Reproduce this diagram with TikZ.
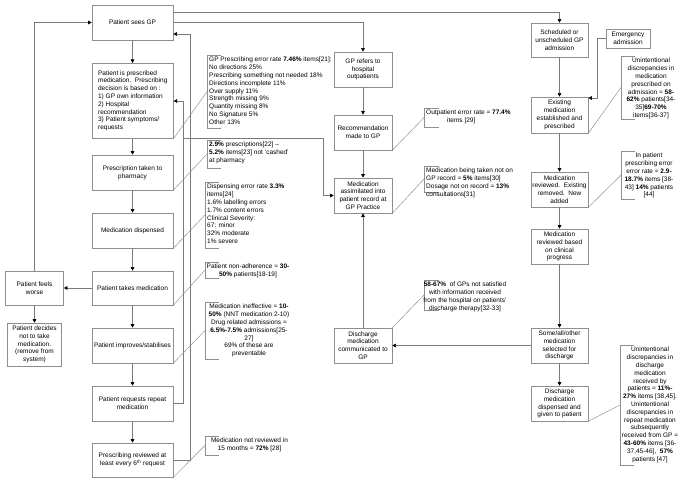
\documentclass[tikz,border=0pt]{standalone}
\usepackage{fontspec}
\setmainfont{Liberation Sans}
\usetikzlibrary{arrows.meta}
\definecolor{boxgray}{HTML}{8E8E8E}
\definecolor{linegray}{HTML}{7A7A7A}
\newcommand\fs{\fontsize{6.5}{7.8}\selectfont}
\tikzset{
  x=1pt, y=-1pt,
  box/.style={draw=boxgray, line width=0.6pt, fill=white, font=\fs, align=center, inner sep=1pt, minimum height=35pt},
  arr/.style={draw=linegray, line width=0.55pt, -{Triangle[length=3.5pt,width=3.5pt,black]}},
  conn/.style={draw=linegray, line width=0.55pt},
  brk/.style={draw=boxgray, line width=0.5pt},
  diag/.style={draw=boxgray, line width=0.45pt},
  ann/.style={font=\fs, inner sep=1pt},
}
\begin{document}
\begin{tikzpicture}
\useasboundingbox (0,0) rectangle (685,484);
\fill[white] (0,0) rectangle (685,484);

% left column
\node[box, minimum width=81pt] (gp) at (132.5,22.5) {Patient sees GP};
\node[box, minimum width=81pt, minimum height=75pt, align=left, anchor=north west, inner sep=2pt] (presc) at (92,63) {Patient is prescribed\\medication.\ \ Prescribing\\decision is based on :\\1) GP own information\\2) Hospital\\recommendation\\3) Patient symptoms/\\requests};
\node[box, minimum width=81pt] (pharm) at (132.5,172.5) {Prescription taken to\\pharmacy};
\node[box, minimum width=81pt] (disp) at (132.5,230.5) {Medication dispensed};
\node[box, minimum width=81pt, minimum height=34pt] (takes) at (132.5,288) {Patient takes medication};
\node[box, minimum width=81pt] (improves) at (132.5,345.5) {Patient improves/stabilises};
\node[box, minimum width=81pt] (repeat) at (132.5,403.5) {Patient requests repeat\\medication};
\node[box, minimum width=81pt, minimum height=34pt] (review) at (132.5,460) {Prescribing reviewed at\\least every 6\textsuperscript{th} request};

\node[box, minimum width=58pt, minimum height=34pt] (worse) at (34.5,288) {Patient feels\\worse};
\node[box, minimum width=54pt, minimum height=43pt] (decides) at (34.5,344.5) {Patient decides\\not to take\\medication.\\(remove from\\system)};

% middle column
\node[box, minimum width=58pt] (refers) at (363,69.5) {GP refers to\\hospital\\outpatients};
\node[box, minimum width=58pt] (recomm) at (363,132.5) {Recommendation\\made to GP};
\node[box, minimum width=58pt] (assim) at (363,195.5) {Medication\\assimilated into\\patient record at\\GP Practice};
\node[box, minimum width=58pt] (dcomm) at (363,345.5) {Discharge\\medication\\communicated to\\GP};

% right column
\node[box, minimum width=57pt, minimum height=34pt] (sched) at (559.5,40) {Scheduled or\\unscheduled GP\\admission};
\node[box, minimum width=44pt, minimum height=19pt] (emerg) at (628,38.5) {Emergency\\admission};
\node[box, minimum width=57pt, minimum height=36pt] (exist) at (559.5,115) {Existing\\medication\\established and\\prescribed};
\node[box, minimum width=57pt] (mrev) at (559.5,189.5) {Medication\\reviewed.\ \ Existing\\removed.\ \ New\\added};
\node[box, minimum width=57pt] (mclin) at (559.5,246.5) {Medication\\reviewed based\\on clinical\\progress};
\node[box, minimum width=57pt] (sel) at (559.5,345.5) {Some/all/other\\medication\\selected for\\discharge};
\node[box, minimum width=57pt] (ddisp) at (559.5,403.5) {Discharge\\medication\\dispensed and\\given to patient};

% connectors left column
\draw[arr] (gp) -- (presc.north -| gp);
\draw[arr] (presc.south -| gp) -- (pharm);
\draw[arr] (pharm) -- (disp);
\draw[arr] (disp) -- (takes);
\draw[arr] (takes) -- (improves);
\draw[arr] (improves) -- (repeat);
\draw[arr] (repeat) -- (review);
\draw[arr] (takes.west) -- (worse.east);
\draw[arr] (worse.north) |- (gp.west);
\draw[arr] (worse.south) -- (decides.north);
\draw[arr] (repeat.east) -- (183,403.5) |- (presc.east |- 0,101);
\draw[arr] (review.east) -- (190,460) |- (gp.east |- 0,34);
\coordinate (j1) at (183,138);
\coordinate (j2) at (323,195.5);
\draw[arr] (j1) -| (j2) -- (assim.west);

% top connectors
\draw[arr] (gp.east |- 0,12) -| (sched.north);
\draw[arr] (gp.east) -| (refers.north);

% middle column
\draw[arr] (refers) -- (recomm);
\draw[arr] (recomm) -- (assim);
\draw[arr] (dcomm) -- (assim);

% right column
\draw[arr] (sched) -- (exist);
\draw[arr] (exist) -- (mrev);
\draw[arr] (mrev) -- (mclin);
\draw[arr] (mclin) -- (sel);
\draw[arr] (sel) -- (ddisp);
\draw[arr] (sel.west) -- (dcomm.east);
\draw[arr] (emerg.west) -- (597,38.5) |- (exist.east |- 0,98);

% annotation brackets
\draw[brk] (221,55) -- (207,55) -- (207,128) -- (221,128);
\coordinate (a1) at (207,91.5);
\draw[brk] (221,140) -- (207,140) -- (207,168) -- (221,168);
\coordinate (a2) at (207,154);
\draw[brk] (219,182) -- (205,182) -- (205,248) -- (219,248);
\coordinate (a3) at (205,215);
\draw[brk] (219,262) -- (205,262) -- (205,278) -- (219,278);
\coordinate (a4) at (205,270);
\draw[brk] (219,302) -- (205,302) -- (205,359) -- (219,359);
\coordinate (a5) at (205,330.5);
\draw[brk] (219,436) -- (205,436) -- (205,455) -- (219,455);
\coordinate (a6) at (205,445.5);
\draw[brk] (439,108) -- (424,108) -- (424,127) -- (439,127);
\coordinate (a7) at (424,117.5);
\draw[brk] (439,166) -- (424,166) -- (424,192) -- (439,192);
\coordinate (a8) at (424,179);
\draw[brk] (439,280) -- (424,280) -- (424,310) -- (439,310);
\coordinate (a9) at (424,295);
\draw[brk] (635,56) -- (621,56) -- (621,119) -- (635,119);
\coordinate (a10) at (621,87.5);
\draw[brk] (635,151) -- (621,151) -- (621,199) -- (635,199);
\coordinate (a11) at (621,175);
\draw[brk] (634,345) -- (620,345) -- (620,465) -- (634,465);
\coordinate (a12) at (620,405);

% diagonals
\draw[diag] (presc.south east) -- (a1);
\draw[diag] (pharm.south east) -- (a2);
\draw[diag] (disp.south east) -- (a3);
\draw[diag] (takes.south east) -- (a4);
\draw[diag] (improves.south east) -- (a5);
\draw[diag] (review.south east) -- (a6);
\draw[diag] (recomm.south east) -- (a7);
\draw[diag] (assim.south east) -- (a8);
\draw[diag] (dcomm.north east) -- (a9);
\draw[diag] (exist.south east) -- (a10);
\draw[diag] (mrev.south east) -- (a11);
\draw[diag] (ddisp.south east) -- (a12);

% annotation texts
\node[ann, align=left, anchor=north west] (t1) at (208,56) {GP Prescribing error rate \textbf{7.46\%} items[21]:\\No directions 25\%\\Prescribing something not needed 18\%\\Directions incomplete 11\%\\Over supply 11\%\\Strength missing 9\%\\Quantity missing 8\%\\No Signature 5\%\\Other 13\%};
\node[ann, align=left, anchor=north west] (t2) at (208,141) {\textbf{2.9\%} prescriptions[22] --\\\textbf{5.2\%} items[23] not `cashed'\\at pharmacy};
\node[ann, align=left, anchor=north west] (t3) at (206,183) {Dispensing error rate \textbf{3.3\%}\\items[24]\\1.6\% labelling errors\\1.7\% content errors\\Clinical Severity:\\67: minor\\32\% moderate\\1\% severe};
\node[ann, align=center, anchor=north] (t4) at (248,263) {Patient non-adherence = \textbf{30-}\\\textbf{50\%} patients[18-19]};
\node[ann, align=center, anchor=north] (t5) at (249,303) {Medication ineffective = \textbf{10-}\\\textbf{50\%} (NNT medication 2-10)\\Drug related admissions =\\\textbf{6.5\%-7.5\%} admissions[25-\\27]\\69\% of these are\\preventable};
\node[ann, align=center, anchor=north] (t6) at (249.5,437) {Medication not reviewed in\\15 months = \textbf{72\%} [28]};
\node[ann, align=left, anchor=north west] (t7) at (425,109) {Outpatient error rate = \textbf{77.4\%}\\\hspace*{21pt}items [29]};
\node[ann, align=left, anchor=north west] (t8) at (425,167) {Medication being taken not on\\GP record = \textbf{5\%} items[30]\\Dosage not on record = \textbf{13\%}\\consultations[31]};
\node[ann, align=center, anchor=north] (t9) at (465,281) {\textbf{58-67\%}\ \ of GPs not satisfied\\with information received\\from the hospital on patients'\\discharge therapy[32-33]};
\node[ann, align=center, anchor=north] (t10) at (651,57) {Unintentional\\discrepancies in\\medication\\prescribed on\\admission = \textbf{58-}\\\textbf{62\%} patients[34-\\35]\textbf{69-70\%}\\items[36-37]};
\node[ann, align=center, anchor=north] (t11) at (649,152) {In patient\\prescribing error\\error rate = \textbf{2.9-}\\\textbf{18.7\%} items [38-\\43] \textbf{14\%} patients\\{[44]}};
\node[ann, align=center, anchor=north] (t12) at (650,346) {Unintentional\\discrepancies in\\discharge\\medication\\received by\\patients = \textbf{11\%-}\\\textbf{27\%} items [38,45].\\Unintentional\\discrepancies in\\repeat medication\\subsequently\\received from GP =\\\textbf{43-60\%} items [36-\\37,45-46],\ \ \textbf{57\%}\\patients [47]};
\end{tikzpicture}
\end{document}
